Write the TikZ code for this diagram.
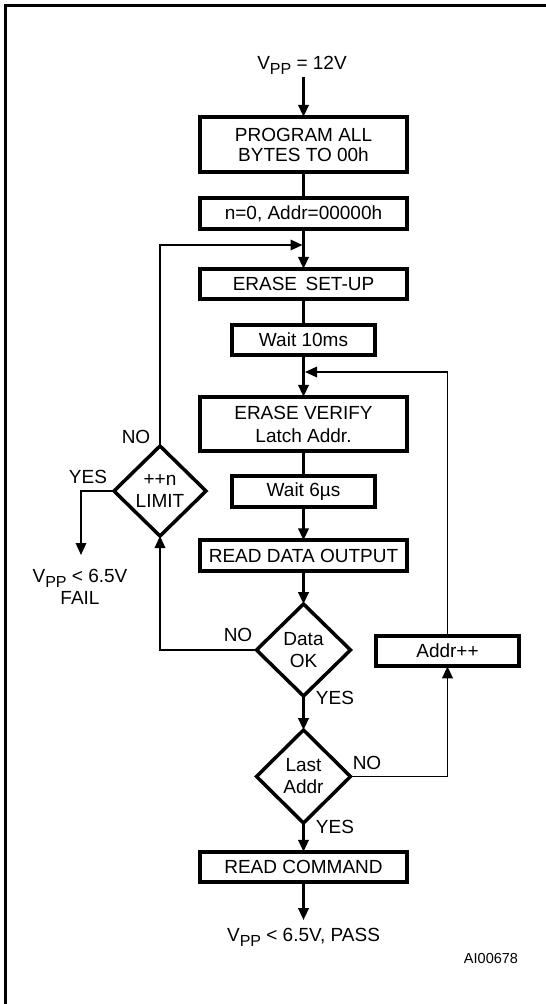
\documentclass[tikz,border=0pt]{standalone}
\usepackage{fontspec}
\setmainfont{Liberation Sans}
\usetikzlibrary{arrows.meta,shapes.geometric}
\newcommand{\vppsub}{V\raisebox{-5pt}{\fontsize{16}{16}\selectfont PP}}
\begin{document}
\begin{tikzpicture}[x=1pt,y=-1pt,
  every node/.style={font=\fontsize{19}{22}\selectfont},
  boxnode/.style={draw, line width=3.7pt, rectangle, line join=miter, inner sep=0pt, outer sep=0pt, minimum height=30.5pt, align=center},
  widebox/.style={boxnode, minimum width=207.5pt},
  narrowbox/.style={boxnode, minimum width=143.5pt},
  decision/.style={draw, line width=3.5pt, diamond, line join=miter, inner sep=0pt, outer sep=0pt, align=center},
  flow/.style={line width=2.5pt},
  loopline/.style={line width=1.8pt},
  tip/.style={-{Triangle[width=10.5pt 0,length=12pt 0]}},
  lbl/.style={inner sep=0pt, outer sep=0pt}
]
\useasboundingbox (0,0) rectangle (546,1004);
% frame (only top and left edges visible)
\draw[line width=2.6pt] (5.5,1004) -- (5.5,5.5) -- (546,5.5);

% process boxes
\node[lbl, align=center] (vpp12) at (302,65) {\vppsub{} = 12V};
\node[widebox, minimum height=55.5pt, font=\fontsize{19}{20}\selectfont] (prog) at (303.5,144.5) {PROGRAM ALL\\BYTES TO 00h};
\node[widebox] (init) at (303.5,213.5) {n=0, Addr=00000h};
\node[widebox] (setup) at (303.5,284) {ERASE\, SET-UP};
\node[narrowbox] (w10) at (303.5,340) {Wait 10ms};
\node[widebox, minimum height=54.5pt, font=\fontsize{19}{23}\selectfont] (verify) at (303.5,424) {ERASE VERIFY\\Latch Addr.};
\node[narrowbox] (w6) at (303.5,491.5) {Wait 6µs};
\node[widebox] (rdo) at (303.5,555.5) {READ DATA OUTPUT};
\node[decision, minimum width=94pt, minimum height=92pt] (dataok) at (303.5,650) {Data\\OK};
\node[decision, minimum width=94pt, minimum height=93pt] (last) at (303.5,776.5) {Last\\Addr};
\node[widebox] (rcmd) at (303.5,867) {READ COMMAND};
\node[narrowbox, minimum width=142.5pt] (addr) at (447.5,651) {Addr++};
\node[decision, minimum width=92pt, minimum height=90pt] (limit) at (160,491) {++n\\LIMIT};

% terminal texts
\node[lbl, align=center] (fail) at (80,587) {\vppsub{} < 6.5V\\FAIL};
\node[lbl] (pass) at (303.5,937) {\vppsub{} < 6.5V, PASS};
\node[lbl, font=\fontsize{14.5}{16}\selectfont] (ref) at (491,958) {AI00678};

% branch labels
\node[lbl] (noLimit) at (136,437) {NO};
\node[lbl] (yesLimit) at (88,477) {YES};
\node[lbl] (noData) at (238,635) {NO};
\node[lbl] (yesData) at (335,698) {YES};
\node[lbl] (noLast) at (367,763) {NO};
\node[lbl] (yesLast) at (335,827) {YES};

% helper coordinates
\coordinate (m1) at (302.5,245);
\coordinate (m2) at (305,372);
\coordinate (failend) at (81,555);
\coordinate (passend) at (303.5,920);

% main flow
\draw[flow,tip] ([yshift=-3pt]vpp12.south -| prog.north) -- (prog.north);
\draw[flow] (prog.south) -- (init.north);
\draw[flow,tip] (init.south) -- (setup.north);
\draw[flow] (setup.south) -- (w10.north);
\draw[flow,tip] (w10.south) -- (verify.north);
\draw[flow] (verify.south) -- (w6.north);
\draw[flow,tip] (w6.south) -- (rdo.north);
\draw[flow,tip] (rdo.south) -- (dataok.north);
\draw[flow,tip] (dataok.south) -- (last.north);
\draw[flow,tip] (last.south) -- (rcmd.north);
\draw[flow,tip] (rcmd.south) -- (passend);

% loops
\draw[loopline,tip] (dataok.west) -| (limit.south);
\draw[loopline,tip] (limit.north) |- (m1);
\draw[loopline,tip] (limit.west) -| (failend);
\draw[loopline,tip] (last.east) -| (addr.south);
\draw[loopline,tip] (addr.north) |- (m2);
\end{tikzpicture}
\end{document}
